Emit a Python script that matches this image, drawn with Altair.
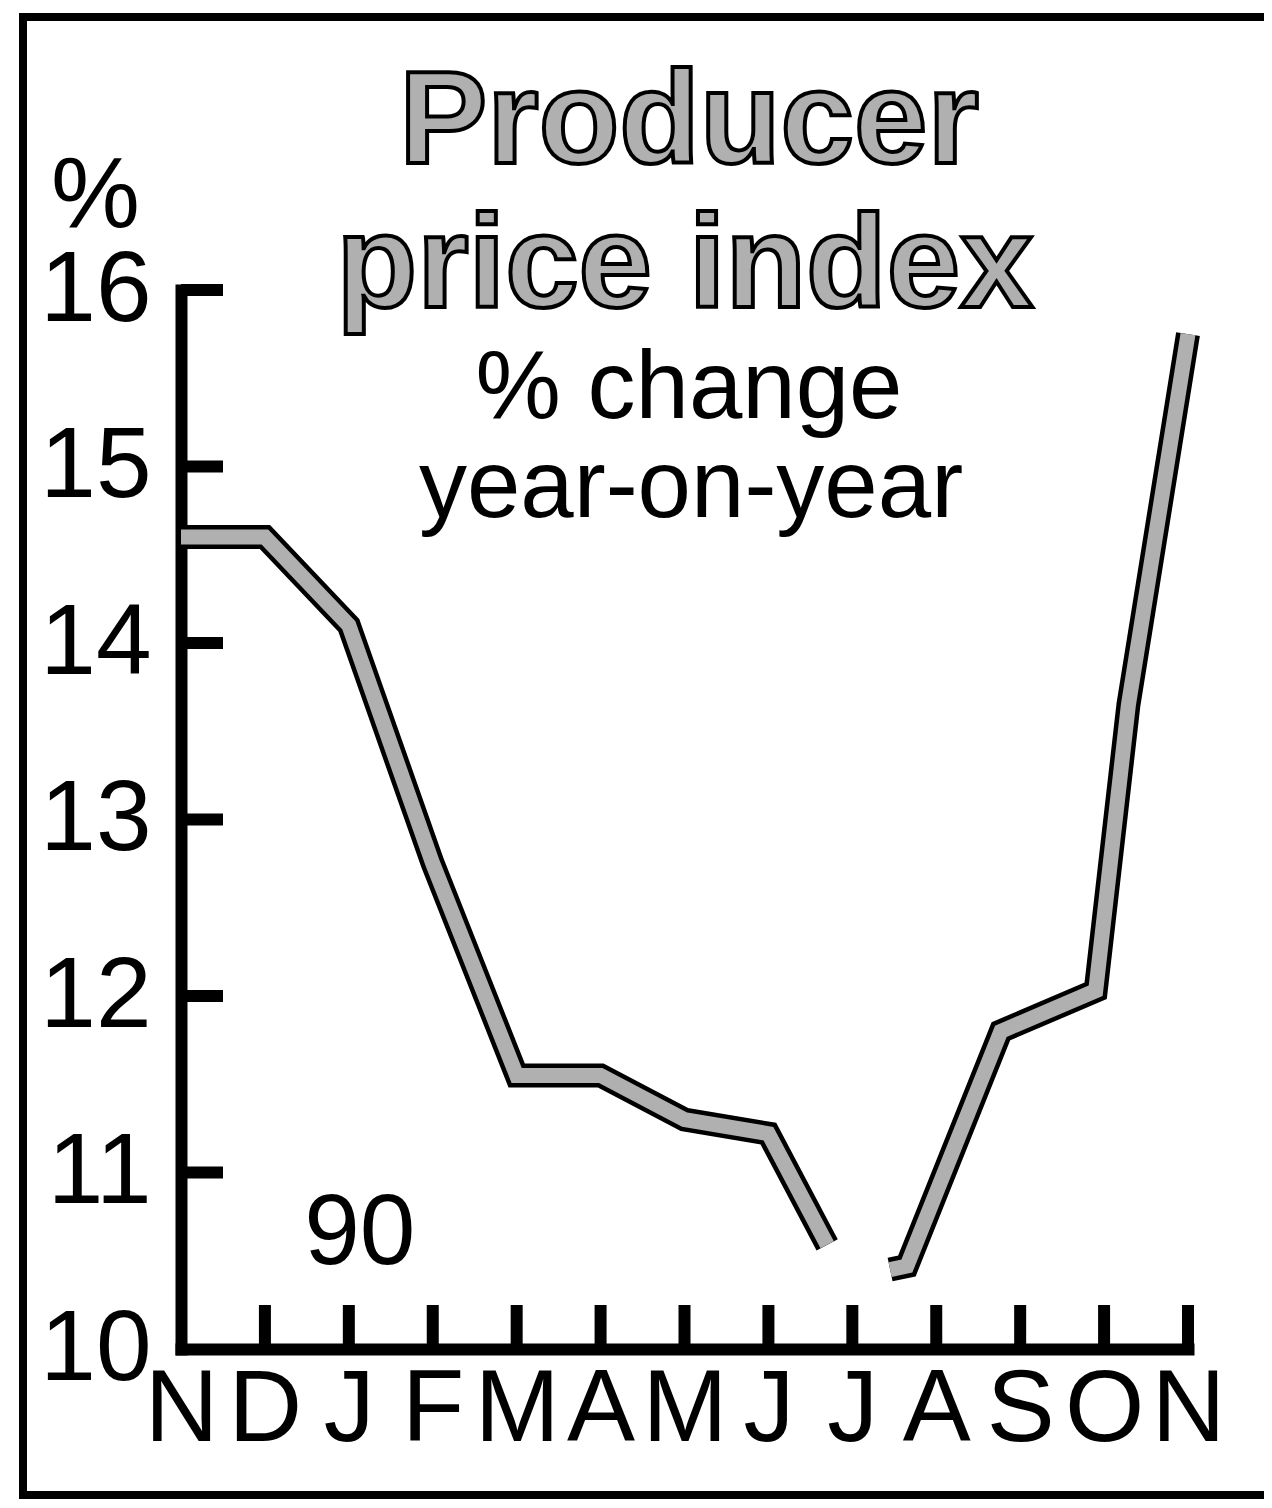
import altair as alt
import pandas as pd

# ---- data ----
months = ["N", "D", "J", "F", "M", "A", "M", "J", "J", "A", "S", "O", "N"]
# segment before the break (Nov 1989 .. mid-July 1990)
seg1_m = [0, 1, 2, 3, 4, 5, 6, 7, 7.7]
seg1_v = [14.6, 14.6, 14.1, 12.75, 11.55, 11.55, 11.3, 11.22, 10.59]
# segment after the break (late July .. Nov 1990)
seg2_m = [8.45, 8.65, 9.77, 10.9, 11.29, 12]
seg2_v = [10.45, 10.47, 11.8, 12.03, 13.65, 15.75]
y_ticks = [10, 11, 12, 13, 14, 15, 16]
x_ticks = list(range(13))
year_label = "90"
title_lines = ["Producer", "price index"]
subtitle_lines = ["% change", "year-on-year"]

W, H = 1007, 1059
FONT = "Liberation Sans"
BAND_FILL = "#b0b0b0"

df = pd.DataFrame({
    "m": seg1_m + seg2_m,
    "v": seg1_v + seg2_v,
    "seg": ["a"] * len(seg1_m) + ["b"] * len(seg2_m),
})

x_scale = alt.Scale(domain=[0, 12], nice=False, zero=False)
y_scale = alt.Scale(domain=[10, 16], nice=False, zero=False)

label_arr = "[" + ",".join("'%s'" % m for m in months) + "]"

x_axis = alt.Axis(values=x_ticks, labelExpr=label_arr + "[datum.value]",
                  ticks=False, tickSize=0, grid=False, domainColor="black",
                  domainWidth=12, domainCap="square", labelFont=FONT,
                  labelFontSize=102, labelColor="black", labelPadding=10,
                  labelOverlap=False, labelFlush=False, labelLimit=400,
                  title=None)
y_axis = alt.Axis(values=y_ticks, format="d", ticks=False, tickSize=0, grid=False,
                  domainColor="black", domainWidth=12, domainCap="square",
                  labelFont=FONT, labelFontSize=100, labelColor="black",
                  labelPadding=30, labelOverlap=False, labelFlush=False,
                  labelLimit=400,
                  title="%", titleAngle=0, titleAlign="center",
                  titleBaseline="middle", titleX=-86, titleY=-94,
                  titleFont=FONT, titleFontSize=100, titleFontWeight="normal",
                  titleColor="black", titleLimit=400)

base = alt.Chart(df)

axes = base.mark_line(opacity=0).encode(
    x=alt.X("m:Q", scale=x_scale, axis=x_axis),
    y=alt.Y("v:Q", scale=y_scale, axis=y_axis),
    detail="seg:N",
)

band_outer = base.mark_line(color="black", strokeWidth=24, strokeJoin="miter",
                            strokeCap="butt").encode(
    x=alt.X("m:Q", scale=x_scale), y=alt.Y("v:Q", scale=y_scale), detail="seg:N")
band_inner = base.mark_line(color=BAND_FILL, strokeWidth=15, strokeJoin="miter",
                            strokeCap="butt").encode(
    x=alt.X("m:Q", scale=x_scale), y=alt.Y("v:Q", scale=y_scale), detail="seg:N")

yt = alt.Chart(pd.DataFrame({"v": y_ticks[1:]})).mark_rule(
    color="black", strokeWidth=12, strokeCap="butt").encode(
    y=alt.Y("v:Q", scale=y_scale), x=alt.value(0), x2=alt.value(42))
xt = alt.Chart(pd.DataFrame({"m": x_ticks[1:]})).mark_rule(
    color="black", strokeWidth=12, strokeCap="butt").encode(
    x=alt.X("m:Q", scale=x_scale), y=alt.value(H), y2=alt.value(H - 44))

yr = alt.Chart(pd.DataFrame({"t": [year_label], "m": [2.13], "v": [10.48]})).mark_text(
    font=FONT, fontSize=100, color="black", align="center", baseline="alphabetic").encode(
    x=alt.X("m:Q", scale=x_scale), y=alt.Y("v:Q", scale=y_scale), text="t:N")

t1 = alt.Chart(pd.DataFrame({"t": [title_lines[0]]})).mark_text(
    font=FONT, fontSize=132, fontWeight="bold", fill=BAND_FILL, stroke="black",
    strokeWidth=4, align="center", baseline="alphabetic").encode(
    text="t:N", x=alt.value(508), y=alt.value(-127))
t2 = alt.Chart(pd.DataFrame({"t": [title_lines[1]]})).mark_text(
    font=FONT, fontSize=132, fontWeight="bold", fill=BAND_FILL, stroke="black",
    strokeWidth=4, align="center", baseline="alphabetic").encode(
    text="t:N", x=alt.value(504), y=alt.value(17))
s1 = alt.Chart(pd.DataFrame({"t": [subtitle_lines[0]]})).mark_text(
    font=FONT, fontSize=96, color="black", align="center",
    baseline="alphabetic").encode(text="t:N", x=alt.value(508), y=alt.value(128))
s2 = alt.Chart(pd.DataFrame({"t": [subtitle_lines[1]]})).mark_text(
    font=FONT, fontSize=96, color="black", align="center",
    baseline="alphabetic").encode(text="t:N", x=alt.value(510), y=alt.value(227))

frame = alt.Chart(pd.DataFrame({"k": [0]})).mark_rect(
    fill="transparent", stroke="black", strokeWidth=8).encode(
    x=alt.value(-158), x2=alt.value(1110), y=alt.value(-273), y2=alt.value(1205))

chart = alt.layer(axes, frame, band_outer, band_inner, yt, xt, yr, t1, t2, s1, s2).properties(
    width=W, height=H,
    autosize=alt.AutoSizeParams(type="none"),
    padding={"left": 173, "top": 282, "right": 76, "bottom": 151},
    background="white",
).configure_view(stroke=None)

chart.save("out.html", embed_options={"renderer": "svg", "actions": False})
